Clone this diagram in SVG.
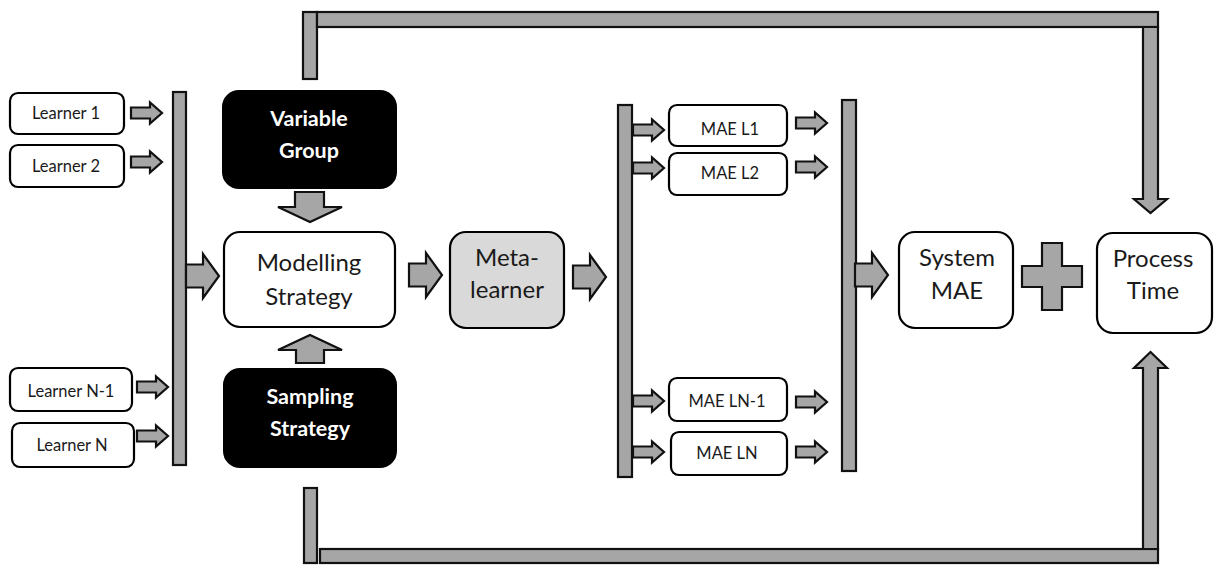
<svg xmlns="http://www.w3.org/2000/svg" xmlns:xlink="http://www.w3.org/1999/xlink" width="1225" height="565" viewBox="0 0 1225 565">
<defs>
<style>
.box{fill:#fff;stroke:#000;stroke-width:2.2}
.dark{fill:#000;stroke:#000;stroke-width:2}
.meta{fill:#d9d9d9;stroke:#000;stroke-width:2.2}
.ar{fill:#a6a6a6;stroke:#111;stroke-width:2.2;stroke-linejoin:miter}
.t{font-family:Lato,"Liberation Sans",sans-serif;text-anchor:middle;fill:#1a1a1a}
.s{font-size:16.5px}
.m{font-size:24px}
.w{font-family:Lato,"Liberation Sans",sans-serif;text-anchor:middle;fill:#fff;font-weight:bold;font-size:21.5px}
</style>
<path id="sa" d="M0,-5.5 H19 V-10.5 L31,0 L19,10.5 V5.5 H0 Z"/>
<path id="ba" d="M0,-11.5 H17 V-22 L33,0 L17,22 V11.5 H0 Z"/>
</defs>
<g id="connectors">
<rect class="ar" x="173" y="92" width="13" height="373"/>
<rect class="ar" x="618" y="105" width="14" height="372"/>
<rect class="ar" x="842" y="100" width="14" height="371"/>
<use href="#sa" class="ar" x="131" y="113"/>
<use href="#sa" class="ar" x="131" y="162"/>
<use href="#sa" class="ar" x="137" y="387"/>
<use href="#sa" class="ar" x="137" y="436"/>
<use href="#sa" class="ar" x="633" y="130"/>
<use href="#sa" class="ar" x="633" y="168"/>
<use href="#sa" class="ar" x="633" y="401"/>
<use href="#sa" class="ar" x="633" y="452"/>
<use href="#sa" class="ar" x="796" y="123"/>
<use href="#sa" class="ar" x="796" y="167"/>
<use href="#sa" class="ar" x="796" y="402"/>
<use href="#sa" class="ar" x="796" y="452"/>
<use href="#ba" class="ar" x="186" y="276"/>
<use href="#ba" class="ar" x="409" y="275"/>
<use href="#ba" class="ar" x="573" y="277"/>
<use href="#ba" class="ar" x="855" y="275"/>
<polygon class="ar" points="295,192 324,192 324,207 342,207 310,222 278,207 295,207"/>
<polygon class="ar" points="296,363 324,363 324,350 342,350 310,335 278,350 296,350"/>
<rect class="ar" x="303" y="12" width="14" height="67"/>
<rect class="ar" x="317" y="12" width="841" height="15"/>
<polygon class="ar" points="1143,27 1158,27 1158,199 1167,199 1150.5,213 1134,199 1143,199"/>
<rect class="ar" x="304" y="488" width="13" height="75"/>
<rect class="ar" x="320" y="549" width="838" height="14"/>
<polygon class="ar" points="1143,549 1158,549 1158,368 1167,368 1150.5,352 1134,368 1143,368"/>
<polygon class="ar" points="1042,243 1062,243 1062,266 1082,266 1082,287 1062,287 1062,310 1042,310 1042,287 1022,287 1022,266 1042,266"/>
</g>
<g id="learner1"><rect class="box" x="10" y="93" width="114" height="41" rx="8"/><text class="t s" x="66" y="119">Learner 1</text></g>
<g id="learner2"><rect class="box" x="10" y="145" width="114" height="42" rx="8"/><text class="t s" x="66" y="172">Learner 2</text></g>
<g id="learnerN1"><rect class="box" x="10" y="368" width="122" height="43" rx="8"/><text class="t s" x="71" y="397">Learner N-1</text></g>
<g id="learnerN"><rect class="box" x="12" y="423" width="122" height="44" rx="8"/><text class="t s" x="72" y="451">Learner N</text></g>
<g id="variable"><rect class="dark" x="223" y="91" width="173" height="97" rx="16"/><text class="w" x="309" y="126">Variable</text><text class="w" x="309" y="158">Group</text></g>
<g id="modelling"><rect class="box" x="224" y="232" width="171" height="95" rx="16"/><text class="t m" x="309" y="271">Modelling</text><text class="t m" x="309" y="305">Strategy</text></g>
<g id="sampling"><rect class="dark" x="224" y="369" width="172" height="98" rx="16"/><text class="w" x="310" y="404">Sampling</text><text class="w" x="310" y="436">Strategy</text></g>
<g id="metalearner"><rect class="meta" x="450" y="232" width="114" height="96" rx="16"/><text class="t m" x="507" y="266">Meta-</text><text class="t m" x="507" y="298">learner</text></g>
<g id="mae1"><rect class="box" x="669" y="105" width="118" height="41" rx="8"/><text class="t s" x="730" y="135">MAE L1</text></g>
<g id="mae2"><rect class="box" x="669" y="153" width="118" height="42" rx="8"/><text class="t s" x="730" y="179">MAE L2</text></g>
<g id="maeN1"><rect class="box" x="669" y="378" width="118" height="43" rx="8"/><text class="t s" x="727" y="407">MAE LN-1</text></g>
<g id="maeN"><rect class="box" x="671" y="432" width="116" height="43" rx="8"/><text class="t s" x="727" y="459">MAE LN</text></g>
<g id="systemmae"><rect class="box" x="899" y="232" width="114" height="96" rx="16"/><text class="t m" x="957" y="266">System</text><text class="t m" x="957" y="299">MAE</text></g>
<g id="processtime"><rect class="box" x="1097" y="233" width="115" height="100" rx="16"/><text class="t m" x="1153" y="267">Process</text><text class="t m" x="1153" y="299">Time</text></g>
</svg>
